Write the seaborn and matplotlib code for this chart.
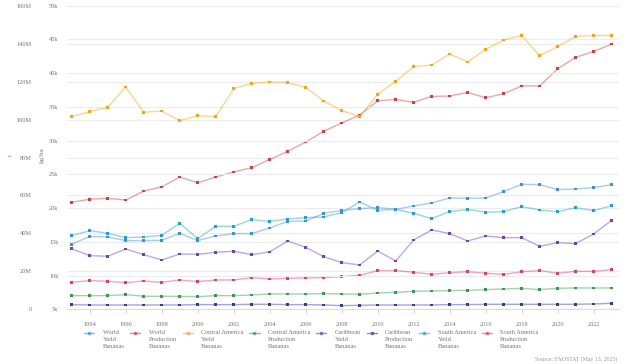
import numpy as np
import pandas as pd
import seaborn as sns
import matplotlib.pyplot as plt
from matplotlib.lines import Line2D
from matplotlib.legend_handler import HandlerLine2D

years = list(range(1993, 2024))

# yield series, kg/ha
world_yield = [14630, 15820, 15720, 15180, 15180, 15230, 16260, 15180, 15870, 16220,
               16220, 17060, 18040, 18090, 19230, 19670, 19920, 20070, 19820, 20320,
               20760, 21500, 21450, 21500, 22440, 23530, 23480, 22740, 22840, 23030, 23480]
ca_yield = [33560, 34300, 34940, 37950, 34200, 34400, 32960, 33700, 33560, 37710,
            38500, 38700, 38600, 37900, 35880, 34450, 33560, 36870, 38800, 40970,
            41200, 42850, 41660, 43540, 44920, 45560, 42600, 43930, 45460, 45600, 45600]
carib_yield = [13990, 12950, 12860, 13940, 13100, 12310, 13200, 13150, 13450, 13600,
               13100, 13500, 15130, 14190, 12810, 11920, 11570, 13650, 12160, 15280,
               16760, 16220, 15130, 15870, 15620, 15620, 14340, 14880, 14730, 16170, 18190]
sa_yield = [15920, 16660, 16260, 15620, 15720, 15970, 17750, 15470, 17300, 17300,
            18290, 18040, 18390, 18590, 18690, 19330, 20910, 19670, 19820, 19230,
            18440, 19480, 19820, 19380, 19480, 20220, 19720, 19480, 20070, 19620, 20370]

# production series, million t
world_prod = [56.4, 58.0, 58.5, 57.6, 62.3, 64.5, 69.7, 66.7, 69.7, 72.4,
              74.6, 79.0, 83.2, 88.2, 93.8, 98.2, 102.4, 109.9, 110.6, 109.1,
              112.2, 112.4, 114.3, 111.5, 113.6, 117.7, 117.7, 126.8, 132.8, 135.9, 139.8]
ca_prod = [7.2, 7.2, 7.2, 7.73, 6.85, 6.85, 6.85, 6.67, 7.2, 7.2,
           7.55, 8.08, 8.08, 8.08, 8.25, 8.08, 7.9, 8.6, 8.96, 9.48,
           9.66, 9.83, 10.0, 10.36, 10.71, 11.06, 10.36, 11.06, 11.24, 11.24, 11.24]
carib_prod = [2.46, 2.28, 2.28, 2.28, 2.28, 2.28, 2.28, 2.46, 2.46, 2.46,
              2.63, 2.63, 2.46, 2.46, 2.28, 1.93, 2.1, 2.28, 2.28, 2.28,
              2.28, 2.46, 2.46, 2.63, 2.63, 2.63, 2.63, 2.63, 2.63, 2.8, 3.16]
sa_prod = [14.2, 15.1, 14.75, 14.05, 14.9, 14.2, 15.45, 14.6, 15.45, 15.45,
           16.7, 16.0, 16.3, 16.5, 16.7, 17.2, 17.9, 20.4, 20.4, 19.5,
           18.4, 19.3, 19.8, 19.0, 18.4, 19.8, 20.4, 19.0, 20.0, 20.0, 20.9]

labels = ["World\nYield\nBananas", "World\nProduction\nBananas",
          "Central America\nYield\nBananas", "Central America\nProduction\nBananas",
          "Caribbean\nYield\nBananas", "Caribbean\nProduction\nBananas",
          "South America\nYield\nBananas", "South America\nProduction\nBananas"]
colors = ["#3a8ee6", "#d93a3f", "#ffa010", "#2f9e44",
          "#6b3fc8", "#2b3bb0", "#18a2d6", "#e6386f"]

series = [world_yield, [v * 1e6 for v in world_prod], ca_yield, [v * 1e6 for v in ca_prod],
          carib_yield, [v * 1e6 for v in carib_prod], sa_yield, [v * 1e6 for v in sa_prod]]
on_yield_axis = [True, False, True, False, True, False, True, False]


class TopHandler(HandlerLine2D):
    # put the legend symbol next to the first text line
    def create_artists(self, legend, orig_handle, xdescent, ydescent, width, height,
                       fontsize, trans):
        return super().create_artists(legend, orig_handle, xdescent, ydescent - 8.5,
                                      width, height, fontsize, trans)


sns.set_style("white")
plt.rcParams['font.family'] = ['Liberation Serif', 'DejaVu Serif']

fig = plt.figure(figsize=(6.24, 3.64), dpi=100)
ax = fig.add_axes([0.1069, 0.1503, 0.8846, 0.834])
ax2 = ax.twinx()

for vals, lab, col, is_y in zip(series, labels, colors, on_yield_axis):
    df = pd.DataFrame({"year": years, "value": vals})
    target = ax2 if is_y else ax
    sns.lineplot(data=df, x="year", y="value", ax=target, color=col, alpha=0.45, lw=1.0)
    sns.scatterplot(data=df, x="year", y="value", ax=target, color=col, s=3.5,
                    marker="s", edgecolor="none", zorder=5)

ax.set_xlim(1992.72, 2023.39)
ax.set_ylim(0, 160e6)
ax2.set_ylim(5000, 50000)

ax.set_yticks(np.arange(0, 161e6, 20e6))
ax.set_yticklabels(["0"] + [f"{int(v)}M" for v in range(20, 161, 20)])
ax2.set_yticks(np.arange(5000, 50001, 5000))
ax2.set_yticklabels([f"{int(v)}k" for v in range(5, 51, 5)])
ax.set_xticks(range(1994, 2023, 2))

ax2.yaxis.tick_left()
ax2.yaxis.set_label_position("left")

for a in (ax, ax2):
    a.set_xlabel("")
    a.set_ylabel("")
    a.grid(axis="y", color="#ececec", lw=0.8)
    a.set_axisbelow(True)
    for s in a.spines.values():
        s.set_visible(False)
ax.spines["bottom"].set_visible(True)
ax.spines["bottom"].set_color("#dddddd")
ax.spines["bottom"].set_linewidth(0.8)

ax.tick_params(axis="y", length=0, pad=25, labelsize=4.6, labelcolor="#777777")
ax2.tick_params(axis="y", length=0, pad=6, labelsize=4.6, labelcolor="#777777")
ax.tick_params(axis="x", length=3, width=0.6, color="#cccccc", pad=6,
               labelsize=4.6, labelcolor="#777777", bottom=True)

fig.text(10 / 624, 1 - 155 / 364, "t", rotation=90, ha="center", va="center",
         fontsize=5, color="#777777")
fig.text(42 / 624, 1 - 155 / 364, "kg/ha", rotation=90, ha="center", va="center",
         fontsize=5, color="#777777")

handles = [Line2D([0], [0], color=c, lw=1.0, alpha=0.6, marker="s", markersize=2.0,
                  markerfacecolor=c, markeredgecolor=c) for c in colors]
leg = fig.legend(handles, labels, loc="upper left", bbox_to_anchor=(84 / 624, 1 - 330 / 364),
                 ncol=8, frameon=False, fontsize=4.6, labelcolor="#777777",
                 handlelength=1.6, handletextpad=1.3, columnspacing=0.9, borderpad=0,
                 borderaxespad=0, handler_map={Line2D: TopHandler()})
for t in leg.get_texts():
    t.set_linespacing(1.5)

fig.text(0.99, 1 - 359 / 364, "Source: FAOSTAT (May 13, 2025)", ha="right", va="center",
         fontsize=4.2, color="#999999")

fig.savefig("out.png", dpi=100)
